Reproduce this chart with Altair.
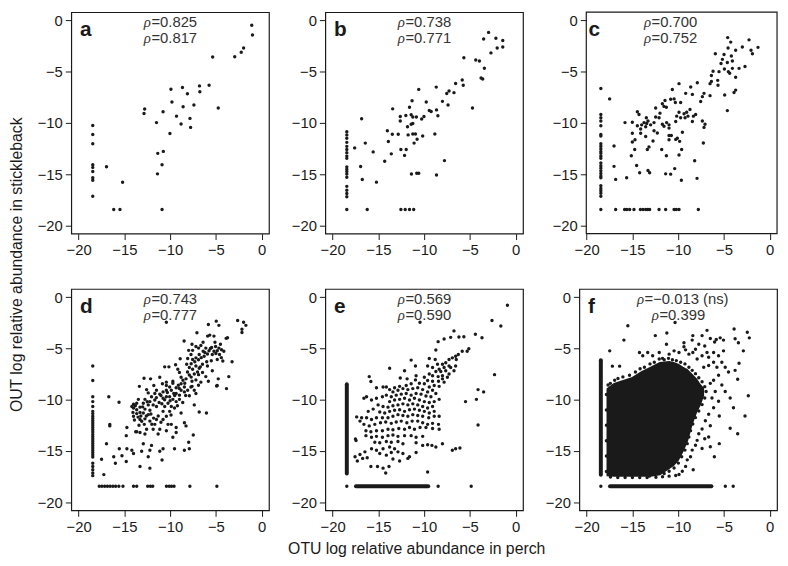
import altair as alt
import pandas as pd

FONT = "Liberation Sans, Arial, Helvetica, sans-serif"
GREEK_FONT = "Liberation Serif, Times New Roman, serif"
INK = "#1a1a1a"
ZERO = -18.45
TICKS = [-20, -15, -10, -5, 0]
Y_DOMAIN = [-20.8, 0.8]
X_DOMAIN = [-20.8, 0.8]
C_FRAME_X = [-20.04, 0.8]
WIDTH = 200
HEIGHT = 224

LETTERS = ["a", "b", "c", "d", "e", "f"]
LETTER_X = [-19.85, -19.85, -19.8, -19.85, -19.85, -19.85]
LETTER_Y = -1.51
RHO_1 = ["=0.825", "=0.738", "=0.700", "=0.743", "=0.569", "=\u22120.013 (ns)"]
RHO_2 = ["=0.817", "=0.771", "=0.752", "=0.777", "=0.590", "=0.399"]
RHO_1_X = [-12.1, -12.1, -12.96, -12.1, -12.1, -13.73]
RHO_2_X = [-12.1, -12.1, -12.96, -12.1, -12.1, -12.1]
RHO_Y = [-0.2, -1.77]

X_TITLE = "OTU log relative abundance in perch"
Y_TITLE = "OUT log relative abundance in stickleback"

# ---------------- panel a ----------------
A_PTS = [(-1.08, -0.47), (-1.0, -1.42), (-1.97, -2.69), (-2.23, -3.1), (-2.94, -3.54), (-5.35, -3.58),
         (-5.74, -6.33), (-6.79, -6.39), (-6.75, -6.96), (-8.65, -6.55), (-8.11, -7.15), (-9.91, -6.71),
         (-9.8, -7.97), (-7.4, -8.26), (-8.58, -8.42), (-4.74, -8.54), (-10.77, -8.92), (-12.78, -8.64),
         (-12.85, -9.08), (-9.3, -9.34), (-7.83, -9.56), (-8.8, -10.1), (-7.76, -10.44), (-11.49, -9.97),
         (-10.02, -11.04), (-11.35, -12.97), (-10.74, -12.78), (-10.88, -14.08), (-11.38, -14.97),
         (-16.95, -14.27), (-15.19, -15.79)]
A_COL_Y = [-10.25, -11.14, -12.03, -14.08, -14.34, -14.75, -15.35, -15.6, -17.15]
A_ROW_X = [-16.16, -15.48, -10.88]

# ---------------- panel b ----------------
B_PTS = [(-2.96, -1.17), (-3.5, -1.81), (-2.16, -1.75), (-1.41, -1.97), (-2.02, -2.7), (-1.41, -2.6),
         (-2.7, -3.17), (-5.66, -3.65), (-4.36, -3.87), (-3.96, -3.97), (-3.42, -4.67), (-3.78, -5.62),
         (-3.6, -5.71), (-5.84, -5.81), (-5.73, -6.32), (-6.56, -6.16), (-7.28, -6.89), (-6.74, -7.05),
         (-7.53, -7.14), (-8.68, -6.51), (-10.59, -6.73), (-8.0, -7.9), (-7.39, -8.25), (-9.77, -7.97),
         (-11.32, -7.84), (-9.44, -8.79), (-9.23, -8.89), (-8.65, -8.73), (-8.5, -9.3), (-4.72, -8.54),
         (-13.44, -8.63), (-11.6, -8.48), (-12.0, -9.27), (-11.42, -9.21), (-12.61, -9.37), (-12.61, -9.81),
         (-11.24, -9.43), (-11.24, -10.06), (-11.82, -10.38), (-11.42, -10.13), (-10.02, -9.37),
         (-10.27, -9.62), (-10.85, -9.43), (-16.83, -9.59), (-14.02, -10.76), (-13.48, -11.11),
         (-12.83, -11.11), (-13.91, -11.81), (-11.75, -11.17), (-11.24, -11.08), (-10.95, -11.08),
         (-11.1, -11.97), (-10.77, -11.59), (-10.16, -11.27), (-8.83, -11.08), (-16.43, -11.97),
         (-17.59, -12.44), (-15.57, -12.83), (-13.59, -13.02), (-12.54, -12.6), (-11.96, -12.6),
         (-12.14, -13.17), (-14.31, -13.75), (-7.78, -13.68), (-16.94, -14.25), (-16.76, -15.52),
         (-15.21, -15.78), (-11.39, -14.98), (-10.81, -14.92), (-10.59, -14.92), (-8.65, -15.08)]
B_COL_Y = [-10.86, -11.17, -11.49, -11.9, -12.29, -12.6, -12.92, -13.24, -13.46, -14.29, -14.51, -14.73,
           -14.98, -15.3, -16.19, -16.57, -16.89, -17.21, -18.45]
B_ROW_X = [-16.22, -12.54, -12.07, -11.6, -11.14]

# ---------------- panel c ----------------
C_PTS = [(-4.59, -1.68), (-2.26, -1.9), (-4.26, -2.12), (-4.55, -2.69), (-1.28, -2.63), (-2.99, -2.59),
         (-2.04, -2.91), (-1.89, -3.26), (-4.99, -3.32), (-4.19, -3.48), (-3.72, -2.91), (-5.94, -3.26),
         (-5.17, -3.8), (-4.63, -4.11), (-4.08, -3.96), (-5.32, -4.21), (-2.7, -4.49), (-3.35, -4.68),
         (-4.08, -4.68), (-4.95, -4.75), (-4.52, -5.0), (-5.54, -5.0), (-6.19, -4.97), (-3.72, -5.54),
         (-4.37, -5.16), (-6.37, -5.38), (-5.68, -5.85), (-6.37, -5.95), (-6.52, -6.17), (-5.65, -6.33),
         (-3.72, -6.8), (-3.9, -7.03), (-4.92, -7.28), (-4.63, -8.8), (-6.52, -7.34), (-7.18, -7.12),
         (-7.36, -7.44), (-7.54, -7.91), (-7.91, -6.08), (-8.63, -6.49), (-9.18, -7.12), (-9.91, -6.17),
         (-8.45, -7.22), (-10.64, -6.74), (-10.45, -7.66), (-10.82, -7.69), (-9.73, -8.01), (-11.44, -7.82),
         (-11.73, -8.13), (-11.55, -8.39), (-11.29, -8.48), (-10.31, -8.01), (-8.71, -8.7), (-9.07, -8.96),
         (-9.36, -9.11), (-9.25, -9.49), (-8.93, -9.34), (-9.91, -8.96), (-9.73, -9.49), (-10.16, -9.34),
         (-10.27, -9.87), (-8.34, -9.34), (-8.09, -9.18), (-8.45, -9.87), (-7.36, -9.81), (-7.07, -10.13),
         (-7.18, -10.44), (-7.25, -11.96), (-12.46, -8.54), (-11.99, -9.05), (-13.48, -9.49), (-14.46, -8.92),
         (-15.01, -9.94), (-14.28, -9.18), (-13.3, -9.81), (-12.46, -9.43), (-12.09, -9.49), (-13.73, -9.97),
         (-13.99, -10.19), (-13.44, -10.06), (-13.01, -10.19), (-14.46, -10.28), (-12.64, -9.97),
         (-11.73, -10.13), (-11.55, -10.32), (-11.26, -9.97), (-11.0, -10.19), (-11.0, -10.51), (-14.1, -10.6),
         (-13.55, -10.38), (-12.64, -10.76), (-12.28, -10.98), (-14.1, -11.01), (-15.01, -11.01),
         (-15.01, -11.87), (-14.72, -11.65), (-13.55, -11.33), (-12.75, -11.77), (-11.0, -11.23),
         (-10.75, -11.23), (-11.0, -11.65), (-10.27, -11.61), (-10.09, -11.49), (-9.54, -10.92),
         (-9.84, -11.8), (-11.8, -12.6), (-13.19, -12.34), (-13.37, -12.6), (-9.62, -12.6), (-9.91, -13.13),
         (-11.29, -13.2), (-14.75, -12.6), (-15.12, -13.2), (-14.54, -14.15), (-15.81, -9.97), (-17.01, -12.25),
         (-17.49, -7.66), (-17.01, -14.24), (-16.83, -15.51), (-15.63, -15.35), (-14.21, -14.87),
         (-13.3, -14.65), (-13.12, -14.87), (-11.37, -14.97), (-10.82, -15.0), (-10.38, -14.46),
         (-9.65, -15.6), (-8.2, -13.7), (-7.94, -15.41)]
C_COL_Y = [-6.65, -9.18, -9.49, -9.81, -10.28, -11.14, -11.27, -12.03, -12.28, -12.53, -12.78, -12.97,
           -13.23, -13.45, -13.92, -14.18, -14.43, -14.68, -14.94, -15.19, -15.35, -16.14, -16.39, -16.61,
           -16.87, -17.15, -18.45]
C_ROW_X = [-16.83, -15.85, -15.6, -15.3, -14.83, -14.13, -13.84, -13.55, -13.33, -13.12, -12.09, -11.37,
           -10.45, -10.2, -9.91, -7.8]

# ---------------- panel d ----------------
D_PTS = [(-2.62, -2.28), (-1.97, -2.44), (-1.72, -2.75), (-2.15, -3.13), (-2.15, -3.45), (-4.96, -2.34),
         (-4.67, -2.75), (-5.82, -2.66), (-10.41, -2.44), (-7.07, -3.48), (-5.67, -3.7), (-5.21, -3.8),
         (-3.88, -4.02), (-3.73, -3.96), (-8.47, -4.27), (-7.61, -4.59), (-7.18, -4.81), (-6.64, -4.72),
         (-7.97, -5.19), (-7.54, -5.19), (-6.89, -4.97), (-6.1, -4.97), (-5.46, -4.91), (-5.03, -4.81),
         (-4.67, -4.97), (-4.38, -5.13), (-4.13, -5.28), (-4.85, -5.22), (-5.21, -5.28), (-5.75, -5.22),
         (-6.39, -5.28), (-6.82, -5.6), (-7.18, -5.92), (-7.54, -6.08), (-8.08, -5.98), (-7.72, -5.6),
         (-6.28, -5.76), (-5.92, -5.54), (-5.39, -5.6), (-4.85, -6.08), (-4.24, -6.23), (-3.23, -6.3),
         (-3.59, -7.75), (-3.84, -8.92), (-4.92, -8.67), (-4.74, -7.97), (-8.19, -6.55), (-7.9, -6.87),
         (-7.54, -7.03), (-7.18, -6.71), (-6.82, -6.93), (-6.46, -6.55), (-5.92, -6.71), (-5.39, -7.18),
         (-6.46, -7.34), (-6.89, -7.56), (-7.36, -7.5), (-7.9, -7.59), (-8.26, -7.97), (-7.61, -8.2),
         (-7.18, -8.07), (-6.64, -8.29), (-5.82, -8.2), (-6.1, -7.75), (-8.8, -7.82), (-9.16, -7.03),
         (-8.98, -7.34), (-10.59, -6.8), (-10.13, -6.8), (-9.7, -8.2), (-9.7, -8.39), (-9.34, -8.83),
         (-8.8, -8.45), (-8.44, -8.77), (-8.8, -9.08), (-9.34, -9.4), (-8.98, -9.56), (-8.44, -9.24),
         (-8.08, -9.08), (-7.72, -8.77), (-7.36, -9.08), (-7.9, -9.62), (-7.18, -9.4), (-7.36, -10.51),
         (-6.82, -11.2), (-6.03, -11.3), (-11.13, -7.82), (-10.84, -8.45), (-10.41, -8.29), (-10.41, -8.61),
         (-10.05, -8.77), (-9.87, -9.08), (-10.41, -9.08), (-10.77, -9.24), (-11.13, -9.46), (-11.49, -9.08),
         (-11.78, -8.61), (-12.14, -7.97), (-12.85, -7.91), (-11.67, -9.4), (-12.03, -9.72), (-12.39, -9.34),
         (-12.57, -9.02), (-13.36, -8.7), (-12.75, -9.97), (-12.21, -10.19), (-11.67, -10.03), (-11.2, -10.28),
         (-10.77, -9.87), (-10.41, -9.72), (-10.05, -9.72), (-9.7, -9.97), (-9.34, -10.19), (-8.98, -9.97),
         (-8.62, -10.28), (-8.8, -11.3), (-10.23, -10.35), (-9.87, -10.66), (-9.52, -10.82), (-10.59, -10.66),
         (-10.77, -11.14), (-10.05, -11.14), (-10.41, -11.61), (-10.77, -11.93), (-10.23, -12.41),
         (-9.87, -12.41), (-9.34, -13.2), (-9.34, -12.72), (-8.44, -12.25), (-8.26, -12.56), (-9.7, -13.67),
         (-9.52, -14.78), (-11.49, -11.93), (-11.67, -12.41), (-11.13, -12.88), (-10.41, -13.04),
         (-11.31, -13.35), (-11.49, -10.66), (-11.85, -10.51), (-12.39, -10.51), (-12.93, -10.35),
         (-13.47, -9.97), (-13.65, -10.35), (-14.0, -10.44), (-14.0, -10.82), (-14.18, -10.66),
         (-13.65, -10.98), (-13.29, -10.73), (-12.75, -10.92), (-12.21, -11.04), (-12.39, -11.46),
         (-12.93, -11.3), (-13.29, -11.24), (-13.65, -11.36), (-14.06, -11.24), (-14.0, -11.61),
         (-13.9, -11.99), (-13.29, -11.93), (-12.75, -11.87), (-12.21, -12.09), (-12.82, -12.41),
         (-13.4, -12.5), (-13.65, -13.13), (-13.29, -13.2), (-12.57, -12.88), (-11.85, -12.88),
         (-12.75, -13.35), (-13.76, -13.13), (-14.72, -12.72), (-12.93, -14.3), (-12.03, -14.46),
         (-14.79, -13.51), (-16.7, -9.72), (-15.58, -10.25), (-16.59, -12.41), (-16.59, -12.56),
         (-16.95, -14.3), (-17.49, -15.82), (-17.24, -17.31), (-16.16, -15.57), (-15.98, -16.2),
         (-15.55, -14.78), (-15.26, -15.47), (-14.79, -16.04), (-14.72, -14.78), (-14.18, -14.94),
         (-14.0, -15.25), (-13.11, -15.03), (-12.39, -15.57), (-12.21, -14.94), (-13.29, -16.52),
         (-12.21, -16.68), (-11.13, -15.03), (-10.88, -15.89), (-10.77, -14.78), (-8.44, -14.94),
         (-7.97, -14.15), (-7.9, -14.78), (-7.47, -13.45), (-4.85, -8.61),
         (-13.8, -10.6), (-13.5, -11.7), (-13.1, -12.1), (-12.6, -11.6), (-12.1, -11.4), (-11.8, -11.8),
         (-11.3, -11.6), (-10.9, -10.4), (-10.3, -9.3), (-9.6, -9.4), (-9.1, -8.6), (-8.6, -8.1),
         (-8.1, -7.3), (-7.7, -6.5), (-7.3, -6.3), (-6.9, -6.1), (-6.6, -5.9), (-6.2, -5.4), (-5.6, -5.0),
         (-5.0, -5.5), (-4.6, -5.6), (-4.4, -5.9), (-6.0, -6.3), (-6.7, -6.8), (-7.0, -7.3), (-7.7, -7.8),
         (-8.4, -8.4), (-9.0, -8.9), (-9.5, -9.6), (-10.0, -10.1), (-10.6, -10.0), (-11.0, -9.6),
         (-11.5, -9.8), (-12.5, -10.2), (-13.0, -10.7), (-13.2, -11.6), (-12.0, -12.4), (-11.0, -12.2),
         (-9.9, -11.5), (-9.2, -10.6), (-8.3, -9.6), (-7.6, -8.7), (-6.9, -8.6), (-5.5, -6.2), (-5.1, -4.4),
         (-4.5, -4.6), (-6.4, -4.4), (-5.9, -3.8), (-8.9, -6.0), (-9.4, -6.6)]
D_COL_Y = [-6.71, -8.13, -9.72, -10.19, -10.66, -11.14, -11.36, -11.61, -11.84, -12.06, -12.28, -12.5,
           -12.72, -12.94, -13.16, -13.39, -13.61, -13.83, -14.05, -14.27, -14.49, -14.72, -14.94, -15.16,
           -15.38, -15.6, -16.2, -16.52, -16.83, -17.15, -17.41]
D_ROW_X = [-17.74, -17.45, -17.15, -16.85, -16.55, -16.25, -15.95, -15.6, -15.15, -14.0, -13.65, -12.45,
           -12.15, -11.9, -10.4, -10.1, -9.85, -9.57, -7.84, -4.89]

# ---------------- panel e ----------------
E_PTS = [(-0.9, -0.79), (-2.59, -2.28), (-1.62, -2.82), (-10.45, -2.44), (-6.74, -3.29), (-4.4, -3.61),
         (-3.68, -3.96), (-5.66, -3.86), (-6.2, -3.89), (-7.1, -3.92), (-7.82, -4.08), (-8.47, -4.34),
         (-8.72, -5.16), (-5.12, -5.03), (-5.3, -5.28), (-2.31, -7.56), (-4.11, -9.02), (-3.5, -9.24),
         (-4.29, -9.97), (-5.48, -10.19), (-4.11, -12.47), (-9.62, -17.06),
         (-5.84, -5.28), (-6.27, -5.6), (-6.56, -5.76), (-6.92, -5.92), (-6.49, -6.08), (-7.28, -6.08),
         (-7.64, -6.39), (-8.0, -6.55), (-7.28, -6.71), (-7.82, -6.87), (-8.36, -7.03), (-8.54, -6.55),
         (-8.79, -6.08), (-9.44, -5.98), (-9.62, -6.71), (-9.08, -6.87), (-8.72, -7.25), (-8.18, -7.25),
         (-7.64, -7.18), (-7.1, -6.87), (-6.56, -6.71), (-6.74, -7.18), (-7.28, -7.5), (-8.0, -7.66),
         (-8.47, -7.75), (-9.08, -7.66), (-9.44, -7.5), (-8.0, -7.97), (-7.46, -7.82), (-8.43, -8.2),
         (-9.08, -8.2), (-9.62, -8.13), (-9.98, -7.82), (-8.9, -8.61), (-8.36, -8.7), (-7.82, -8.29),
         (-9.44, -8.77), (-9.98, -8.45), (-10.88, -7.66), (-11.42, -6.14), (-10.95, -6.71), (-12.14, -7.18),
         (-12.61, -7.88), (-13.77, -6.93), (-11.86, -7.97), (-10.95, -8.07), (-10.52, -8.39), (-11.42, -8.45),
         (-11.96, -8.61), (-12.68, -8.7), (-13.23, -8.83), (-13.77, -9.02), (-14.13, -8.77), (-14.49, -8.77),
         (-16.0, -7.75), (-15.82, -8.23), (-15.21, -8.83),
         (-13.41, -9.24), (-12.86, -9.08), (-12.32, -8.92), (-11.78, -9.02), (-11.24, -8.92), (-10.7, -8.83),
         (-10.16, -9.02), (-9.62, -9.24), (-9.08, -9.08), (-8.72, -9.4), (-9.26, -9.72), (-9.8, -9.65),
         (-10.34, -9.46), (-10.88, -9.4), (-11.42, -9.56), (-11.96, -9.4), (-12.5, -9.46), (-13.05, -9.56),
         (-13.59, -9.72), (-14.13, -9.56), (-14.56, -9.72), (-15.21, -9.87), (-15.75, -10.03), (-16.29, -9.72),
         (-16.58, -9.87), (-13.77, -10.19), (-13.23, -10.03), (-12.68, -9.97), (-12.14, -9.87), (-11.6, -10.03),
         (-11.06, -9.87), (-10.52, -10.03), (-9.98, -10.19), (-9.44, -10.28), (-8.9, -10.19), (-8.36, -9.97),
         (-9.08, -10.66), (-9.62, -10.82), (-10.16, -10.66), (-10.7, -10.51), (-11.24, -10.41),
         (-11.78, -10.51), (-12.32, -10.41), (-12.86, -10.51), (-13.41, -10.6), (-13.95, -10.73),
         (-14.49, -10.66), (-15.03, -10.51), (-15.57, -10.92), (-16.11, -11.14), (-14.85, -11.2),
         (-14.31, -11.3), (-13.77, -11.14), (-13.23, -11.04), (-12.68, -10.98), (-12.14, -11.14),
         (-11.6, -10.98), (-11.06, -10.92), (-10.52, -11.04), (-9.98, -11.14), (-9.44, -11.3), (-8.9, -11.14),
         (-8.36, -11.61), (-8.9, -11.61), (-9.5, -11.77), (-10.16, -11.61), (-10.7, -11.55), (-11.24, -11.46),
         (-11.78, -11.61), (-12.32, -11.55), (-12.86, -11.46), (-13.41, -11.61), (-13.95, -11.77),
         (-14.56, -11.77), (-15.21, -11.77), (-15.75, -11.93), (-16.29, -11.77), (-16.83, -11.77),
         (-17.37, -11.68), (-17.01, -12.09), (-16.58, -12.41), (-16.0, -12.56), (-15.39, -12.41),
         (-14.77, -12.25), (-14.2, -12.18), (-13.59, -12.31), (-13.05, -12.18), (-12.5, -12.09),
         (-11.89, -12.25), (-11.31, -12.09), (-10.7, -12.09), (-10.16, -12.25), (-9.62, -12.41),
         (-9.08, -12.31), (-8.43, -12.41), (-8.36, -12.88), (-9.08, -12.82), (-9.8, -12.72), (-10.45, -12.72),
         (-11.06, -12.88), (-11.6, -12.72), (-12.14, -12.88), (-12.77, -12.82), (-13.41, -12.94),
         (-13.95, -12.88), (-14.56, -13.04), (-15.21, -13.04), (-15.82, -13.13), (-16.36, -13.04),
         (-16.36, -13.51), (-15.75, -13.67), (-15.21, -13.58), (-14.56, -13.67), (-13.95, -13.51),
         (-13.41, -13.45), (-12.86, -13.58), (-12.14, -13.51), (-11.42, -13.51), (-10.88, -13.67),
         (-10.16, -13.58), (-17.51, -13.83), (-17.44, -13.99), (-15.39, -14.15), (-14.85, -14.21),
         (-14.13, -14.08), (-13.59, -14.15), (-12.86, -14.08), (-12.32, -14.3), (-10.88, -14.21),
         (-10.16, -14.46), (-9.62, -14.4), (-9.15, -14.46), (-8.72, -14.62), (-8.0, -14.3), (-6.92, -14.94),
         (-6.56, -14.78), (-6.09, -14.72), (-15.75, -14.78), (-15.21, -14.94), (-14.49, -14.78),
         (-13.77, -14.62), (-13.23, -14.78), (-13.59, -15.16), (-12.86, -15.09), (-12.32, -15.25),
         (-14.13, -15.41), (-14.85, -15.25), (-16.47, -15.09), (-17.01, -15.35), (-17.55, -15.57),
         (-17.3, -15.98), (-16.72, -15.73), (-16.22, -15.66), (-15.82, -16.52), (-15.1, -16.52),
         (-14.49, -16.68), (-14.2, -17.15), (-13.84, -16.52), (-12.68, -15.98), (-13.41, -15.79),
         (-11.78, -15.73), (-11.6, -15.57), (-10.88, -15.16)]
E_COL_Y = [-18.45]
E_ROW_X = [-8.47, -4.86]
E_COL_RANGE = [-17.2, -8.5]
E_ROW_RANGE = [-17.45, -9.55]

# ---------------- panel f ----------------
F_PTS = [(-15.5, -2.79), (-15.93, -4.19), (-17.48, -5.24), (-17.19, -6.73), (-16.4, -6.73), (-12.5, -3.75),
         (-11.24, -3.49), (-10.34, -2.48), (-11.28, -4.6), (-9.37, -4.44), (-9.37, -4.83), (-8.4, -3.75),
         (-8.47, -4.19), (-8.4, -5.4), (-7.39, -3.75), (-6.85, -3.24), (-6.49, -4.03), (-6.02, -4.38),
         (-5.84, -4.13), (-5.41, -3.97), (-5.05, -4.19), (-5.05, -5.24), (-3.89, -3.11), (-3.78, -4.06),
         (-3.42, -4.44), (-2.88, -5.24), (-2.45, -3.43), (-2.23, -3.97), (-3.35, -6.44), (-3.78, -7.14),
         (-3.5, -8.0), (-2.34, -9.62), (-4.32, -9.84), (-3.96, -10.79), (-5.51, -11.59), (-2.7, -11.59),
         (-4.32, -12.79), (-3.5, -13.33), (-5.51, -14.29), (-6.05, -15.56), (-6.49, -14.6), (-6.67, -13.65),
         (-7.1, -13.81), (-7.39, -14.76), (-8.11, -14.44), (-8.36, -16.83), (-9.01, -15.87), (-9.91, -17.3),
         (-13.15, -17.46),
         (-14.23, -5.4), (-13.87, -5.71), (-13.33, -5.4), (-12.79, -5.71), (-12.07, -5.4), (-11.71, -5.97),
         (-10.99, -5.56), (-10.45, -5.24), (-9.91, -5.4), (-9.19, -5.14), (-8.83, -5.56), (-8.11, -5.08),
         (-7.75, -4.6), (-7.1, -4.76), (-6.85, -5.4), (-7.39, -5.71), (-7.93, -6.03), (-6.67, -5.87),
         (-6.13, -5.4), (-5.59, -5.71), (-6.13, -6.35), (-6.67, -6.67), (-7.21, -6.83), (-5.77, -6.83),
         (-5.23, -6.35), (-4.86, -6.83), (-4.5, -7.3), (-5.59, -7.62), (-6.13, -8.1), (-6.49, -8.41),
         (-5.23, -8.57), (-4.86, -9.21), (-5.95, -9.21), (-6.31, -9.84), (-5.59, -10.16), (-6.13, -10.79),
         (-6.67, -11.43), (-7.03, -12.06), (-6.49, -12.54), (-7.39, -12.86), (-7.75, -13.33), (-7.93, -13.97),
         (-8.47, -14.92), (-8.65, -15.56), (-9.19, -16.51), (-9.55, -16.98), (-10.27, -17.4), (-10.99, -17.46),
         (-11.71, -17.52), (-12.43, -17.56),
         (-17.66, -8.57), (-17.41, -8.41), (-16.94, -8.1), (-16.58, -7.94), (-16.04, -7.78), (-15.32, -7.62),
         (-14.67, -7.3), (-14.16, -6.98), (-13.69, -6.83), (-13.08, -6.51), (-12.61, -6.35), (-12.07, -6.03),
         (-11.53, -6.1), (-11.06, -5.97), (-10.63, -6.1), (-10.2, -6.19), (-9.73, -6.35), (-9.26, -6.51),
         (-8.83, -6.83), (-8.47, -7.14), (-8.11, -7.46), (-7.75, -7.87), (-7.39, -8.25), (-7.1, -8.73),
         (-6.95, -9.21), (-7.1, -9.84), (-7.39, -10.48), (-7.75, -11.11), (-8.11, -11.75), (-8.4, -12.38),
         (-8.65, -13.02), (-8.83, -13.65), (-9.01, -14.29), (-9.26, -14.92), (-9.62, -15.56), (-9.98, -16.19),
         (-10.45, -16.67), (-10.99, -16.98), (-11.53, -17.21),
         (-17.84, -9.5), (-17.84, -11.0), (-17.84, -12.5), (-17.84, -14.0), (-17.84, -15.5), (-17.84, -17.0),
         (-17.4, -17.55), (-16.6, -17.6), (-15.8, -17.6), (-15.0, -17.6), (-14.2, -17.6), (-13.4, -17.6)]
F_COL_Y = [-18.45]
F_ROW_X = [-4.85, -3.99]
F_COL_RANGE = [-17.33, -6.16]
F_ROW_RANGE = [-17.45, -6.37]
F_AREA_X = [-17.75, -17.0, -16.0, -15.0, -14.0, -13.0, -12.0, -11.0, -10.5, -10.0, -9.5, -9.0, -8.5, -8.0,
            -7.6, -7.25]
F_AREA_TOP = [-8.95, -8.45, -8.15, -7.85, -7.3, -6.85, -6.4, -6.3, -6.4, -6.55, -6.85, -7.1, -7.55, -8.0,
              -8.55, -8.9]
F_AREA_BOT = [-17.4, -17.45, -17.45, -17.45, -17.45, -17.45, -17.3, -16.7, -16.4, -15.9, -15.05, -14.0,
              -12.4, -11.2, -10.5, -9.6]


def make_panel(i, pts, col_y, row_x, col_range=None, row_range=None, area=None,
               x_title=False, y_title=False, frame_x=None):
    xscale = alt.Scale(domain=X_DOMAIN, nice=False, zero=False)
    yscale = alt.Scale(domain=Y_DOMAIN, nice=False, zero=False)
    if x_title:
        xaxis = alt.Axis(values=TICKS, labelFlush=False, title=X_TITLE, titleX=92, titleY=39,
                         titleAlign="center", titleBaseline="middle")
    else:
        xaxis = alt.Axis(values=TICKS, labelFlush=False, title=None)
    ykw = dict(values=TICKS, labelFlush=False)
    if frame_x is not None:
        ykw["offset"] = -7
    if y_title:
        yaxis = alt.Axis(title=Y_TITLE, titleX=-47, titleY=255, titleAngle=270,
                         titleAlign="center", titleBaseline="bottom", **ykw)
    else:
        yaxis = alt.Axis(title=None, **ykw)

    def X(field="x"):
        return alt.X(f"{field}:Q", scale=xscale, axis=xaxis)

    def Y(field="y"):
        return alt.Y(f"{field}:Q", scale=yscale, axis=yaxis)

    rows = list(pts) + [(ZERO, y) for y in col_y] + [(x, ZERO) for x in row_x]
    df = pd.DataFrame(rows, columns=["x", "y"])
    layers = []

    if frame_x is not None:
        fdf = pd.DataFrame({"x": [frame_x[0]], "x2": [frame_x[1]], "y": [Y_DOMAIN[0]], "y2": [Y_DOMAIN[1]]})
        layers.append(
            alt.Chart(fdf).mark_rect(filled=False, stroke=INK, strokeWidth=1.2)
            .encode(x=X(), x2="x2:Q", y=Y(), y2="y2:Q")
        )
    if area is not None:
        adf = pd.DataFrame({"x": area[0], "y": area[1], "y2": area[2]})
        layers.append(
            alt.Chart(adf).mark_area(color=INK, orient="vertical", opacity=1,
                                     stroke=INK, strokeWidth=1.5)
            .encode(x=X(), y=Y(), y2="y2:Q")
        )
    if col_range is not None:
        rdf = pd.DataFrame({
            "x": [ZERO, row_range[0]], "x2": [ZERO, row_range[1]],
            "y": [col_range[0], ZERO], "y2": [col_range[1], ZERO],
        })
        layers.append(
            alt.Chart(rdf).mark_rule(color=INK, strokeWidth=4, strokeCap="round")
            .encode(x=X(), x2="x2:Q", y=Y(), y2="y2:Q")
        )

    layers.append(
        alt.Chart(df).mark_circle(size=12, color=INK, opacity=1).encode(x=X(), y=Y())
    )

    ldf = pd.DataFrame({"x": [LETTER_X[i]], "y": [LETTER_Y], "t": [LETTERS[i]]})
    layers.append(
        alt.Chart(ldf).mark_text(align="left", baseline="alphabetic", font=FONT, fontSize=21,
                                 fontWeight="bold", color=INK)
        .encode(x=X(), y=Y(), text="t:N")
    )
    rdf2 = pd.DataFrame({"x": [RHO_1_X[i], RHO_2_X[i]], "y": RHO_Y, "t": [RHO_1[i], RHO_2[i]]})
    layers.append(
        alt.Chart(rdf2).mark_text(align="right", baseline="middle", font=GREEK_FONT, fontSize=15,
                                  fontStyle="italic", color="#333333")
        .encode(x=X(), y=Y(), text=alt.value("\u03c1"))
    )
    layers.append(
        alt.Chart(rdf2).mark_text(align="left", baseline="middle", font=FONT, fontSize=15,
                                  color="#333333", dx=0.5)
        .encode(x=X(), y=Y(), text="t:N")
    )
    chart = alt.layer(*layers).properties(width=WIDTH, height=HEIGHT)
    if frame_x is not None:
        chart = chart.properties(view=alt.ViewBackground(strokeOpacity=0))
    return chart


pa = make_panel(0, A_PTS, A_COL_Y, A_ROW_X, y_title=True)
pb = make_panel(1, B_PTS, B_COL_Y, B_ROW_X)
pc = make_panel(2, C_PTS, C_COL_Y, C_ROW_X, frame_x=C_FRAME_X)
pd_ = make_panel(3, D_PTS, D_COL_Y, D_ROW_X)
pe = make_panel(4, E_PTS, E_COL_Y, E_ROW_X, col_range=E_COL_RANGE, row_range=E_ROW_RANGE, x_title=True)
pf = make_panel(5, F_PTS, F_COL_Y, F_ROW_X, col_range=F_COL_RANGE, row_range=F_ROW_RANGE,
                area=(F_AREA_X, F_AREA_TOP, F_AREA_BOT))

chart = (
    alt.concat(pa, pb, pc, pd_, pe, pf, columns=3, spacing={"row": 56, "column": 57}, bounds="flush")
    .properties(padding={"left": 0, "top": 0, "right": 2, "bottom": 2})
    .configure_axis(
        domain=False, grid=False, ticks=True, tickColor=INK, tickSize=6, tickWidth=1,
        labelFont=FONT, labelFontSize=15, labelColor=INK, labelPadding=3,
        titleFont=FONT, titleFontSize=16, titleColor=INK, titleFontWeight="normal",
    )
    .configure_view(stroke=INK, strokeWidth=1.2)
)

chart.save("out.html", embed_options={"renderer": "svg", "actions": False})
